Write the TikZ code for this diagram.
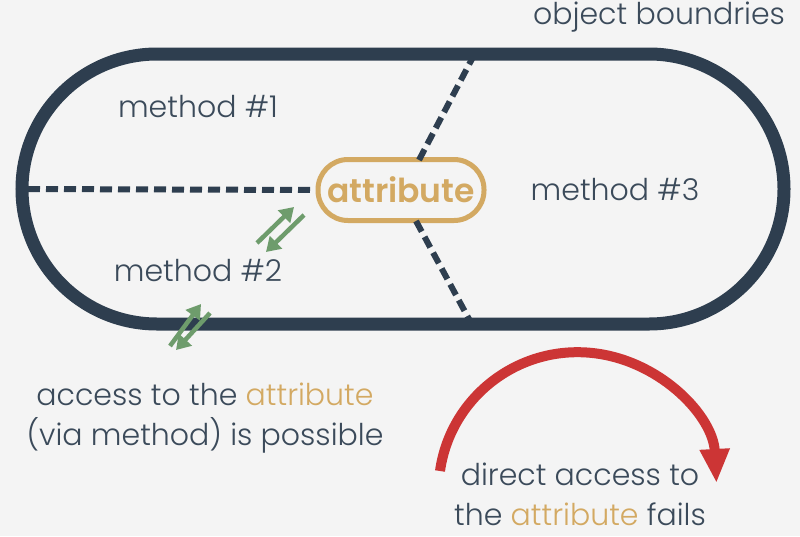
\documentclass[tikz,border=0pt]{standalone}
\usepackage{fontspec}
\setmainfont{Poppins}[UprightFont={Poppins Light}, BoldFont={Poppins SemiBold}]
\usetikzlibrary{arrows.meta}
\definecolor{bg}{HTML}{F4F4F4}
\definecolor{navy}{HTML}{2E3E4F}
\definecolor{txt}{HTML}{3B4A5A}
\definecolor{gold}{HTML}{D3A962}
\definecolor{grn}{HTML}{6E9C6C}
\definecolor{rd}{HTML}{CC3535}
\tikzset{
  lbl/.style={text=txt, font=\fontsize{30}{40}\selectfont, inner sep=0pt},
  divider/.style={navy, line width=6pt, dash pattern=on 12pt off 6pt},
  garrow/.style={grn, line width=4.5pt, -{Triangle[length=14pt,width=17pt]}},
}
\begin{document}
\begin{tikzpicture}[x=1pt,y=-1pt]
\fill[bg] (0,0) rectangle (800,536);
\useasboundingbox (0,0) rectangle (800,536);
\node[draw=navy, line width=13pt, rounded corners=135pt, minimum width=762pt, minimum height=270pt, inner sep=0pt] (obj) at (403,189) {};
\node[draw=gold, line width=5pt, rounded corners=30pt, minimum width=166pt, minimum height=61pt, inner sep=0pt, text=gold, font=\fontsize{33}{36}\selectfont\bfseries] (attr) at (401,190) {attribute};
\coordinate (left) at (28,189);
\coordinate (top) at (473,57);
\coordinate (bot) at (470,321);
\coordinate (atop) at (419,160);
\coordinate (abot) at (416,221);
\draw[divider] (left) -- (attr.west);
\draw[divider] (atop) -- (top);
\draw[divider] (abot) -- (bot);
\node[lbl] (m1) at (198,107) {method \#1};
\node[lbl] (m2) at (198,271) {method \#2};
\node[lbl] (m3) at (615,190) {method \#3};
\node[lbl] (ob) at (659,17) {object boundries};
\node[lbl, align=center] (acc) at (205,418) {access to the \textcolor{gold}{attribute}\\(via method) is possible};
\node[lbl, align=center] (dir) at (580,494) {direct access to\\the \textcolor{gold}{attribute} fails};
% green arrows
\coordinate (g1a) at (257,243); \coordinate (g1b) at (294,207);
\coordinate (g2a) at (304,215); \coordinate (g2b) at (266,252);
\coordinate (g3a) at (170,346); \coordinate (g3b) at (201,304);
\coordinate (g4a) at (210,313); \coordinate (g4b) at (176,350);
\draw[garrow] (g1a) -- (g1b);
\draw[garrow] (g2a) -- (g2b);
\draw[garrow] (g3a) -- (g3b);
\draw[garrow] (g4a) -- (g4b);
% red arc
\coordinate (rs) at (440,471);
\draw[rd, line width=10pt, -{Triangle[length=34pt,width=28pt]}] (rs) arc[start angle=-172, end angle=-3, x radius=139, y radius=138];
\end{tikzpicture}
\end{document}
